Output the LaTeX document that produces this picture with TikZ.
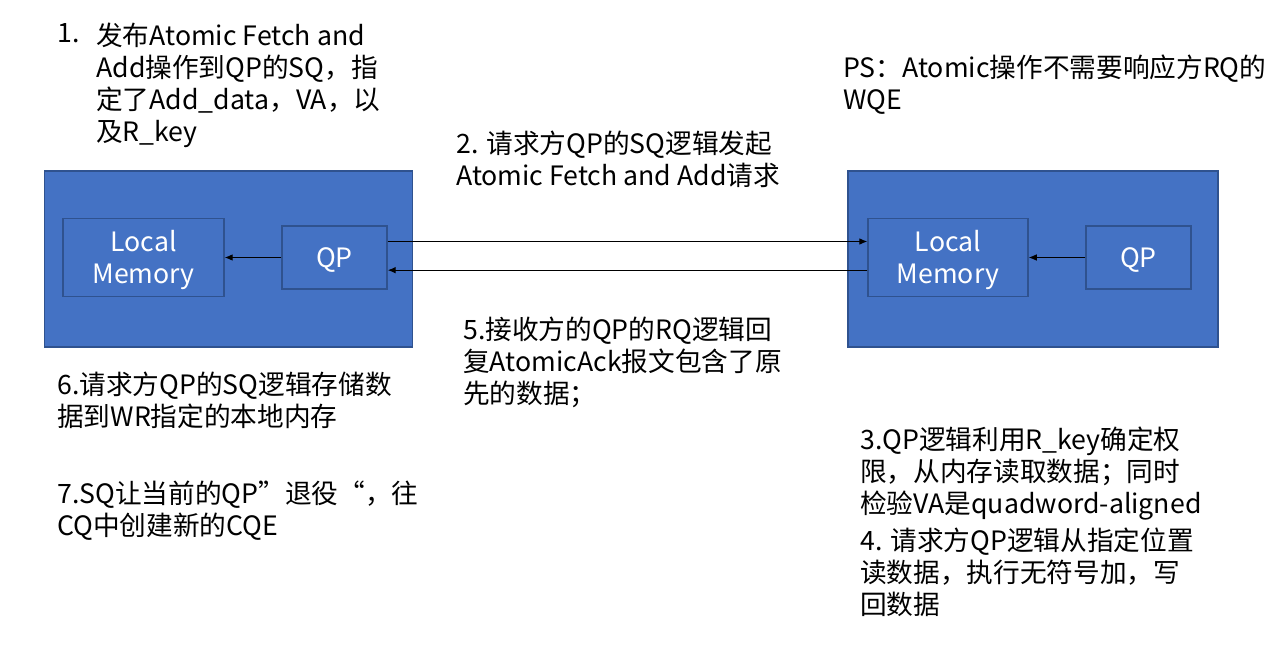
\documentclass[tikz,border=0pt]{standalone}
\usepackage{fontspec}
\setmainfont{Noto Sans CJK SC}
\usepackage{xcolor}
\usepackage{tikz}
\usetikzlibrary{positioning}
\usetikzlibrary{arrows.meta, calc}
\definecolor{boxblue}{HTML}{4472C4}
\definecolor{edgeblue}{HTML}{2F528F}

\begin{document}
\begin{tikzpicture}[x=0.75pt, y=-0.75pt,
        host/.style={draw=edgeblue, line width=1.1pt, fill=boxblue},
        part/.style={draw=edgeblue, line width=1.1pt, fill=boxblue, text=white,
            align=center, font=\fontsize{20pt}{24pt}\selectfont, inner sep=0pt,
            text depth=0pt},
        note/.style={anchor=north west, align=left, inner sep=0pt,
            font=\fontsize{20pt}{24pt}\selectfont},
        arr/.style={-{Latex[length=6pt, width=5pt]}, line width=0.75pt}]
        \useasboundingbox (0,0) rectangle (1276,648);
        % two hosts
        \node[host, minimum width=276pt, minimum height=132pt] (lhost) at (228.5,259) {};
        \node[host, minimum width=277.5pt, minimum height=132pt] (rhost) at (1033,259) {};
        \node[part, minimum width=120.75pt, minimum height=58.5pt, text height=38.6pt] (lmem) at (143.5,257.5) {Local\\Memory};
        \node[part, minimum width=78.75pt, minimum height=47.25pt, text height=14.6pt] (lqp) at (334.5,257.5) {QP};
        \node[part, minimum width=120pt, minimum height=58.5pt, text height=38.6pt] (rmem) at (948,257.5) {Local\\Memory};
        \node[part, minimum width=78.75pt, minimum height=47.25pt, text height=14.6pt] (rqp) at (1138.5,257.5) {QP};
        % connectors
        \draw[arr] (lqp.west) -- (lmem.east);
        \draw[arr] (rqp.west) -- (rmem.east);
        \draw[arr] ([yshift=12pt]lqp.east) -- ([yshift=12pt]rmem.west);
        \draw[arr] ([yshift=-9.5pt]rmem.west) -- ([yshift=-9.5pt]lqp.east);
        % notes
        \node[note] (n1num) at (57,23) {1.};
        \node[note] (n1) at (96,23) {发布Atomic Fetch and\\Add操作到QP的SQ，指\\定了Add\_data，VA，以\\及R\_key};
        \node[note] (ps) at (843,55) {PS：Atomic操作不需要响应方RQ的\\WQE};
        \node[note] (n2) at (456,131) {2. 请求方QP的SQ逻辑发起\\Atomic Fetch and Add请求};
        \node[note] (n5) at (463,317) {5.接收方的QP的RQ逻辑回\\复AtomicAck报文包含了原\\先的数据；};
        \node[note] (n6) at (57,372) {6.请求方QP的SQ逻辑存储数\\据到WR指定的本地内存};
        \node[note] (n7) at (57,481) {7.SQ让当前的QP"退役“，往\\CQ中创建新的CQE};
        \node[note] (n3) at (860,427) {3.QP逻辑利用R\_key确定权\\限，从内存读取数据；同时\\检验VA是quadword-aligned};
        \node[note] (n4) at (860,528) {4. 请求方QP逻辑从指定位置\\读数据，执行无符号加，写\\回数据};
    \end{tikzpicture}
\end{document}
